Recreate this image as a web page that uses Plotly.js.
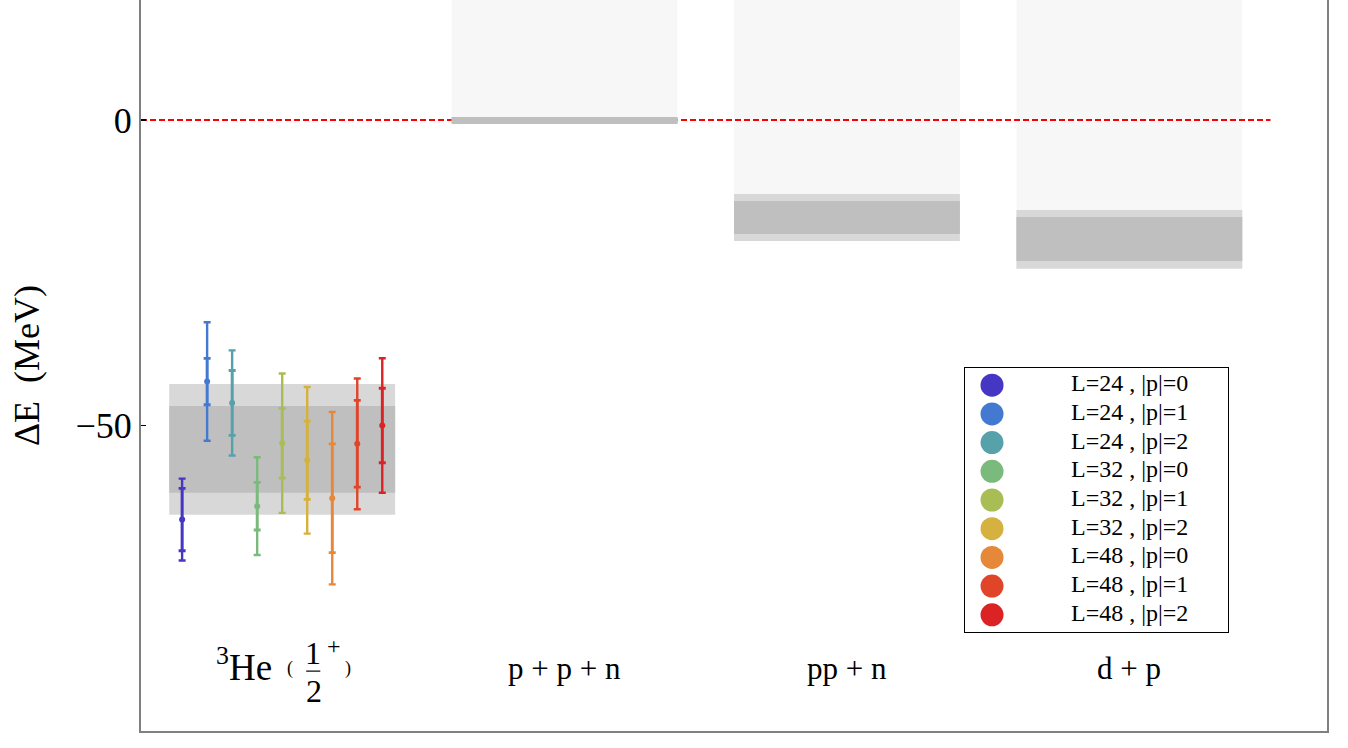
<!DOCTYPE html>
<html>
<head>
<meta charset="utf-8">
<script src="https://cdn.plot.ly/plotly-3.0.1.min.js"></script>
<style>html,body{margin:0;padding:0;background:#fff;}#chart{width:1348px;height:748px;}</style>
</head>
<body>
<div id="chart"></div>
<script>
// ---- Data ----
const channelX = [1, 2, 3, 4];
const channelLabels = ['<sup>3</sup>He', 'p + p + n', 'pp + n', 'd + p'];
const bandOuterHi = [-43.2, 0.49, -12.1, -14.73];
const bandOuterLo = [-64.6, -0.65, -19.8, -24.33];
const bandInnerHi = [-46.8, 0.49, -13.26, -15.88];
const bandInnerLo = [-61.0, -0.65, -18.66, -23.08];
const continuumFrom = [null, 0.49, -12.1, -14.73];
const continuumTo = 30;

const seriesNames = ['L=24 , |p|=0', 'L=24 , |p|=1', 'L=24 , |p|=2',
                     'L=32 , |p|=0', 'L=32 , |p|=1', 'L=32 , |p|=2',
                     'L=48 , |p|=0', 'L=48 , |p|=1', 'L=48 , |p|=2'];
const seriesColors = ['#4536c4', '#4479d1', '#57a1ab', '#7bba7d', '#a9bd55',
                      '#d5b13f', '#e6883a', '#e04429', '#db2326'];
const seriesValue = [-65.4, -42.8, -46.3, -63.2, -52.9, -55.7, -61.9, -53.0, -50.0];
const seriesErrInner = [5.1, 3.8, 5.3, 3.9, 5.7, 6.4, 8.9, 7.1, 6.1];
const seriesErrOuter = [6.7, 9.7, 8.6, 8.0, 11.4, 12.0, 14.1, 10.7, 11.0];

const yTicks = [-100, -50, 0];

// ---- Build ----
const FONT = 'Liberation Serif, Times New Roman, serif';
const traces = [];
const barWidth = 0.8;

// continuum regions
const contX = [], contBase = [], contH = [];
channelX.forEach((x, i) => {
  if (continuumFrom[i] !== null) { contX.push(x); contBase.push(continuumFrom[i]); contH.push(continuumTo - continuumFrom[i]); }
});
traces.push({type: 'bar', x: contX, y: contH, base: contBase, width: barWidth,
  marker: {color: 'rgba(0,0,0,0.032)', line: {width: 0}}, hoverinfo: 'skip', showlegend: false});
traces.push({type: 'bar', x: channelX, y: bandOuterHi.map((h, i) => h - bandOuterLo[i]), base: bandOuterLo,
  width: barWidth, marker: {color: '#d8d8d8', line: {width: 0}}, showlegend: false});
traces.push({type: 'bar', x: channelX, y: bandInnerHi.map((h, i) => h - bandInnerLo[i]), base: bandInnerLo,
  width: barWidth, marker: {color: '#bfbfbf', line: {width: 0}}, showlegend: false});

// lattice points
const step = 0.0886;
seriesValue.forEach((v, i) => {
  const x = channelX[0] + (i - 4) * step;
  traces.push({type: 'scatter', mode: 'markers', x: [x], y: [v], showlegend: false,
    marker: {color: seriesColors[i], size: 1},
    error_y: {type: 'data', array: [seriesErrOuter[i]], color: seriesColors[i], thickness: 2.4, width: 3.5}});
  traces.push({type: 'scatter', mode: 'markers', x: [x], y: [v], showlegend: false,
    marker: {color: seriesColors[i], size: 6},
    error_y: {type: 'data', array: [seriesErrInner[i]], color: seriesColors[i], thickness: 2.8, width: 3.5}});
});

// legend (separate small subplot)
const legY = seriesNames.map((_, i) => i + 1);
traces.push({type: 'scatter', mode: 'markers', xaxis: 'x2', yaxis: 'y2', x: seriesNames.map(() => 27), y: legY,
  marker: {color: seriesColors, size: 23}, showlegend: false, hoverinfo: 'skip'});
traces.push({type: 'scatter', mode: 'text', xaxis: 'x2', yaxis: 'y2', x: seriesNames.map(() => 106), y: legY,
  text: seriesNames, textposition: 'middle right', textfont: {family: FONT, size: 24, color: '#000'},
  showlegend: false, hoverinfo: 'skip'});

// annotations: channel labels
const annotations = [];
const labelY = -89.7;
channelX.forEach((x, i) => {
  if (i === 0) return;
  annotations.push({x: x, y: labelY, xref: 'x', yref: 'y', text: channelLabels[i], showarrow: false,
    font: {family: FONT, size: 31, color: '#000'}});
});
// composite 3He (1/2 +) label
const he = channelX[0];
annotations.push({x: he, y: labelY, xref: 'x', yref: 'y', text: channelLabels[0], showarrow: false,
  xanchor: 'right', xshift: -8, yshift: 4, font: {family: FONT, size: 37, color: '#000'}});
annotations.push({x: he, y: labelY, xref: 'x', yref: 'y', text: '(', showarrow: false,
  xshift: 8, yshift: 0, font: {family: FONT, size: 18, color: '#000'}});
annotations.push({x: he, y: labelY, xref: 'x', yref: 'y', text: '1', showarrow: false,
  xshift: 31, yshift: 15, font: {family: FONT, size: 32, color: '#000'}});
annotations.push({x: he, y: labelY, xref: 'x', yref: 'y', text: '2', showarrow: false,
  xshift: 32, yshift: -23, font: {family: FONT, size: 32, color: '#000'}});
annotations.push({x: he, y: labelY, xref: 'x', yref: 'y', text: '+', showarrow: false,
  xshift: 52, yshift: 22, font: {family: FONT, size: 24, color: '#000'}});
annotations.push({x: he, y: labelY, xref: 'x', yref: 'y', text: ')', showarrow: false,
  xshift: 66, yshift: 0, font: {family: FONT, size: 18, color: '#000'}});

const shapes = [
  {type: 'line', xref: 'x', yref: 'y', x0: 0.5, x1: 4.5, y0: 0, y1: 0, layer: 'below',
   line: {color: '#ff0000', width: 2, dash: '6px,3px'}},
  // fraction bar of the 1/2 label
  {type: 'line', xref: 'x', yref: 'y', x0: he + 0.085, x1: he + 0.135, y0: labelY - 0.5, y1: labelY - 0.5,
   line: {color: '#000', width: 1.2}}
];

const layout = {
  width: 1348, height: 748,
  margin: {l: 141, r: 21, t: 0, b: 17, pad: 0},
  paper_bgcolor: '#fff', plot_bgcolor: 'rgba(0,0,0,0)',
  showlegend: false,
  barmode: 'overlay',
  font: {family: FONT, color: '#000'},
  xaxis: {range: [0.5, 4.7], showline: true, linecolor: '#808080', linewidth: 2, mirror: false,
    showticklabels: false, ticks: '', showgrid: false, zeroline: false, fixedrange: true},
  yaxis: {range: [-100, 19.64], showline: true, mirror: true, linecolor: '#808080', linewidth: 2,
    ticks: 'inside', ticklen: 5, tickwidth: 1.5, tickcolor: '#000', tickvals: yTicks,
    tickfont: {family: FONT, size: 36, color: '#000'}, showgrid: false, zeroline: false,
    title: {text: '\u0394E  (MeV)', font: {family: FONT, size: 36, color: '#000'}, standoff: 25}},
  xaxis2: {domain: [0.6948, 0.9165], anchor: 'y2', range: [0, 263], showline: true, mirror: true,
    linecolor: '#000', linewidth: 1.2, showticklabels: false, ticks: '', showgrid: false, zeroline: false},
  yaxis2: {domain: [0.1354, 0.4966], anchor: 'x2', range: [9.6, 0.4], showline: true, mirror: true,
    linecolor: '#000', linewidth: 1.2, showticklabels: false, ticks: '', showgrid: false, zeroline: false},
  annotations: annotations,
  shapes: shapes
};

Plotly.newPlot('chart', traces, layout, {displayModeBar: false, staticPlot: true});
</script>
</body>
</html>
